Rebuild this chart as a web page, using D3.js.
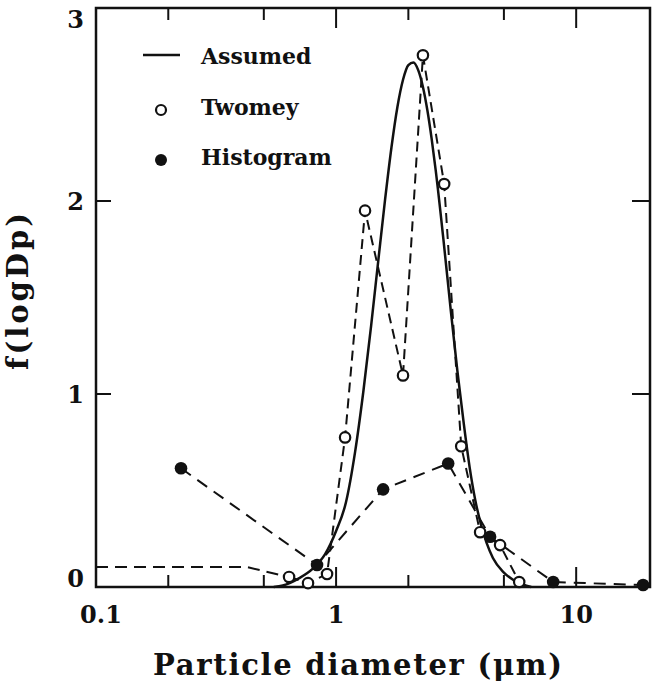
<!DOCTYPE html>
<html><head><meta charset="utf-8">
<script src="https://cdn.jsdelivr.net/npm/d3@7"></script>
<style>body{margin:0;background:#fff}svg{display:block}</style>
</head><body><svg id="c" width="653" height="687"></svg>
<script>
// ---- data ----
const assumedDp = [0.55,0.6,0.7,0.8,0.9,1.0,1.1,1.2,1.3,1.4,1.5,1.6,1.7,1.8,1.9,2.0,2.1,2.2,2.3,2.4,2.5,2.6,2.8,3.0,3.2,3.4,3.6,3.8,4.0,4.5,5.0,5.5,6.0,6.5];
const assumedF  = [0.0,0.008,0.045,0.095,0.17,0.29,0.44,0.70,1.017,1.356,1.695,2.008,2.276,2.486,2.628,2.704,2.718,2.677,2.591,2.470,2.323,2.159,1.80,1.44,1.12,0.85,0.62,0.45,0.33,0.15,0.075,0.035,0.013,0.0];
const twomeyLeadDp = [0.1,0.426,0.637];
const twomeyLeadF  = [0.103,0.103,0.052];
const twomeyDp = [0.637,0.764,0.917,1.09,1.32,1.90,2.30,2.82,3.32,3.98,4.82,5.79];
const twomeyF  = [0.052,0.02,0.067,0.775,1.95,1.096,2.755,2.088,0.729,0.284,0.217,0.026];
const histDp = [0.226,0.833,1.57,2.93,4.38,8.02,19.0];
const histF  = [0.615,0.114,0.506,0.64,0.26,0.026,0.01];
const xTickValues = [0.2,0.5,1,2,5,10];
const xMajor = [1,10];
const xLabelValues = [0.1,1,10];
const xLabelText = ["0.1","1","10"];
const yTickValues = [1,2];
const yLabelValues = [0,1,2,3];
const legendNames = ["Assumed","Twomey","Histogram"];

// ---- layout ----
const svg = d3.select("#c");
const L=96, R=650, T=8, B=587;
const x = d3.scaleLog().domain([0.1,20.3]).range([L,R]);
const y = d3.scaleLinear().domain([0,3]).range([B,T]);
const font = "'DejaVu Serif', serif";
svg.append("rect").attr("width",653).attr("height",687).attr("fill","#fff");

// ticks
const tk = svg.append("g").attr("stroke","#111").attr("stroke-width",2);
xTickValues.forEach(v=>{
  const len = xMajor.includes(v)?20:12;
  tk.append("line").attr("x1",x(v)).attr("x2",x(v)).attr("y1",B).attr("y2",B-len);
  tk.append("line").attr("x1",x(v)).attr("x2",x(v)).attr("y1",T).attr("y2",T+len);
});
yTickValues.forEach(v=>{
  tk.append("line").attr("x1",L).attr("x2",L+15).attr("y1",y(v)).attr("y2",y(v));
  tk.append("line").attr("x1",R).attr("x2",R-18).attr("y1",y(v)).attr("y2",y(v));
});
// frame
svg.append("rect").attr("x",L).attr("y",T).attr("width",R-L).attr("height",B-T)
  .attr("fill","none").attr("stroke","#111").attr("stroke-width",2.5);

// tick labels
const tl = svg.append("g").attr("font-family",font).attr("font-weight","bold").attr("font-size",24).attr("fill","#111");
xLabelValues.forEach((v,i)=>{
  tl.append("text").attr("x",x(v)+(i===0?5:0)).attr("y",623).attr("text-anchor","middle").text(xLabelText[i]);
});
yLabelValues.forEach(v=>{
  const by = Math.min(B, Math.max(28, y(v)+9));
  tl.append("text").attr("x",84).attr("y",by).attr("text-anchor","end").text(String(v));
});

// axis titles
svg.append("text").attr("x",153).attr("y",675).attr("font-family",font).attr("font-weight","bold")
  .attr("font-size",29).attr("fill","#111").attr("textLength",409).attr("lengthAdjust","spacing")
  .text("Particle diameter (\u03bcm)");
svg.append("text").attr("transform","translate(28,370) rotate(-90)").attr("font-family",font).attr("font-weight","bold")
  .attr("font-size",29).attr("fill","#111").attr("textLength",157).attr("lengthAdjust","spacing")
  .text("f(logDp)");

// series
const line = d3.line().x(d=>x(d[0])).y(d=>y(d[1]));
const zip = (a,b)=>a.map((v,i)=>[v,b[i]]);
svg.append("path").datum(zip(twomeyLeadDp,twomeyLeadF)).attr("d",line)
  .attr("fill","none").attr("stroke","#111").attr("stroke-width",2).attr("stroke-dasharray","12,7");
svg.append("path").datum(zip(histDp,histF)).attr("d",line)
  .attr("fill","none").attr("stroke","#111").attr("stroke-width",2).attr("stroke-dasharray","12,8");
svg.append("path").datum(zip(twomeyDp,twomeyF)).attr("d",line)
  .attr("fill","none").attr("stroke","#111").attr("stroke-width",2).attr("stroke-dasharray","10,6");
svg.append("path").datum(zip(assumedDp,assumedF)).attr("d",line.curve(d3.curveMonotoneX))
  .attr("fill","none").attr("stroke","#111").attr("stroke-width",2.5);

svg.append("g").selectAll("circle").data(zip(twomeyDp,twomeyF)).join("circle")
  .attr("cx",d=>x(d[0])).attr("cy",d=>y(d[1])).attr("r",5.2)
  .attr("fill","#fff").attr("stroke","#111").attr("stroke-width",2.2);
svg.append("g").selectAll("circle").data(zip(histDp,histF)).join("circle")
  .attr("cx",d=>x(d[0])).attr("cy",d=>y(d[1])).attr("r",6.3).attr("fill","#111");

// legend
const lg = svg.append("g");
lg.append("line").attr("x1",143).attr("x2",180).attr("y1",55).attr("y2",55).attr("stroke","#111").attr("stroke-width",2.5);
lg.append("circle").attr("cx",161).attr("cy",110).attr("r",5).attr("fill","#fff").attr("stroke","#111").attr("stroke-width",2.2);
lg.append("circle").attr("cx",161).attr("cy",160).attr("r",6).attr("fill","#111");
[64,115,165].forEach((by,i)=>{
  lg.append("text").attr("x",201).attr("y",by).attr("font-family",font).attr("font-weight","bold")
    .attr("font-size",22).attr("fill","#111").text(legendNames[i]);
});
</script></body></html>
